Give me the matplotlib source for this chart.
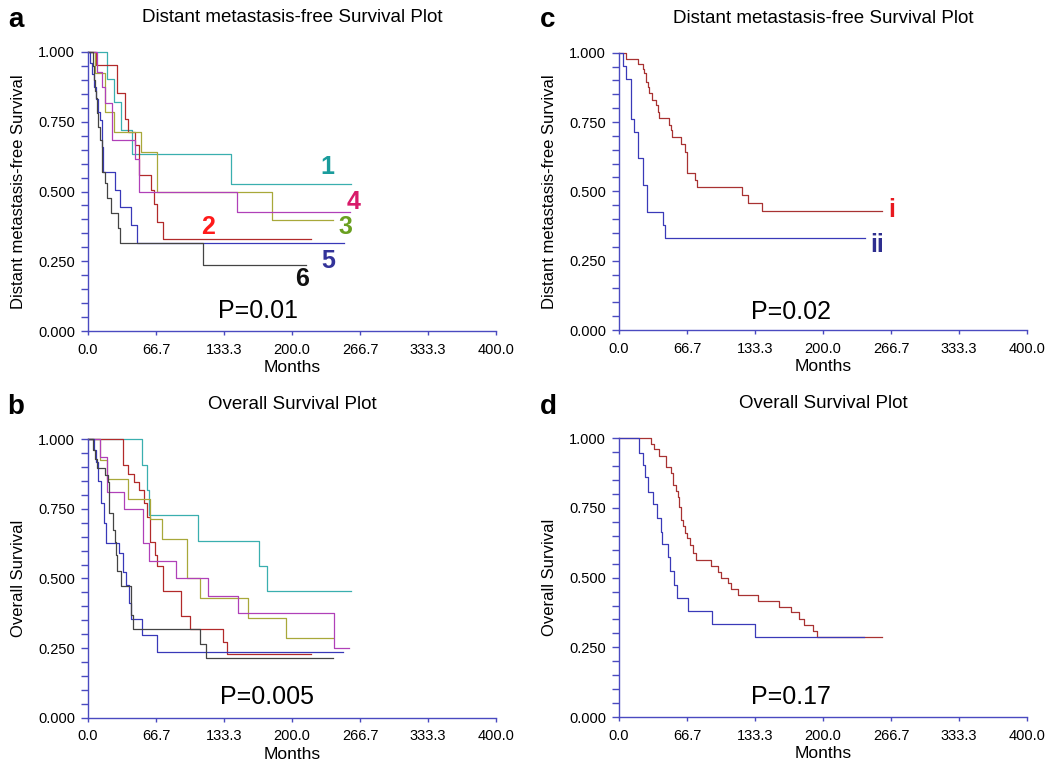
import matplotlib
matplotlib.use("Agg")
import matplotlib.pyplot as plt
from matplotlib.ticker import MultipleLocator, FixedLocator, FormatStrFormatter

plt.rcParams['font.family'] = ['Liberation Sans', 'DejaVu Sans']

# ---- data (months, survival fraction) ----
# panel a: distant metastasis-free survival, groups 1-6
a1_t = [0, 19.0, 25.8, 32.4, 43.5, 140.0, 258.0]
a1_s = [1.0, 0.904, 0.820, 0.722, 0.633, 0.527, 0.527]
a2_t = [0, 7.8, 28.0, 36.3, 39.5, 46.0, 50.3, 61.8, 65.0, 67.3, 73.8, 219.0]
a2_s = [1.0, 0.952, 0.854, 0.759, 0.713, 0.666, 0.558, 0.507, 0.455, 0.391, 0.328, 0.328]
a3_t = [0, 6.9, 16.7, 25.8, 52.0, 67.3, 180.0, 240.0]
a3_s = [1.0, 0.926, 0.785, 0.713, 0.642, 0.499, 0.397, 0.397]
a4_t = [0, 9.0, 13.4, 16.7, 23.8, 46.0, 50.3, 145.7, 257.0]
a4_s = [1.0, 0.930, 0.874, 0.816, 0.686, 0.618, 0.499, 0.427, 0.427]
a5_t = [0, 2.0, 4.0, 6.0, 8.0, 10.0, 12.0, 13.5, 15.0, 26.5, 31.4, 42.2, 47.7, 251.0]
a5_s = [1.0, 0.96, 0.92, 0.875, 0.83, 0.785, 0.755, 0.66, 0.57, 0.505, 0.445, 0.379, 0.314, 0.314]
a6_t = [0, 4.5, 5.5, 6.5, 7.5, 8.5, 10.0, 11.5, 13.4, 16.7, 18.3, 22.2, 29.7, 31.4, 113.0, 214.0]
a6_s = [1.0, 0.95, 0.90, 0.86, 0.834, 0.78, 0.73, 0.684, 0.57, 0.53, 0.476, 0.422, 0.369, 0.314, 0.236, 0.236]

# panel b: overall survival, groups 1-6
b1_t = [0, 53.3, 58.2, 60.0, 107.5, 168.0, 175.0, 257.5]
b1_s = [1.0, 0.908, 0.818, 0.728, 0.636, 0.545, 0.455, 0.455]
b2_t = [0, 34.6, 38.9, 45.4, 50.0, 55.0, 58.2, 60.8, 65.7, 67.3, 73.2, 90.8, 100.0, 132.7, 136.0, 219.0]
b2_s = [1.0, 0.908, 0.875, 0.848, 0.818, 0.77, 0.722, 0.632, 0.584, 0.545, 0.455, 0.365, 0.317, 0.273, 0.228, 0.228]
b3_t = [0, 11.8, 18.3, 38.9, 60.8, 72.2, 97.4, 109.8, 156.5, 194.0, 240.5]
b3_s = [1.0, 0.926, 0.856, 0.784, 0.713, 0.641, 0.50, 0.429, 0.357, 0.287, 0.287]
b4_t = [0, 11.8, 18.3, 35.6, 53.6, 60.0, 86.3, 118.0, 147.4, 241.0, 256.0]
b4_s = [1.0, 0.937, 0.812, 0.749, 0.629, 0.563, 0.50, 0.437, 0.377, 0.251, 0.251]
b5_t = [0, 6.0, 8.0, 10.0, 12.5, 15.7, 17.6, 30.7, 34.6, 37.3, 40.0, 42.2, 53.3, 67.3, 250.0]
b5_s = [1.0, 0.96, 0.92, 0.85, 0.77, 0.70, 0.627, 0.59, 0.524, 0.477, 0.413, 0.353, 0.297, 0.237, 0.237]
b6_t = [0, 5.0, 7.0, 9.0, 17.0, 19.6, 20.9, 24.8, 26.5, 27.3, 28.1, 32.0, 41.8, 43.8, 109.8, 115.4, 240.5]
b6_s = [1.0, 0.96, 0.93, 0.897, 0.87, 0.848, 0.736, 0.674, 0.632, 0.584, 0.527, 0.473, 0.369, 0.317, 0.265, 0.213, 0.213]

# panel c: distant metastasis-free survival, groups i and ii
c1_t = [0, 6.9, 19.0, 23.2, 24.8, 26.1, 28.1, 29.7, 32.0, 36.3, 38.6, 39.5, 49.3, 50.7,
        52.0, 61.1, 65.0, 67.0, 74.5, 76.2, 120.3, 126.8, 139.9, 257.5]
c1_s = [1.0, 0.977, 0.958, 0.94, 0.925, 0.895, 0.875, 0.853, 0.829, 0.811, 0.787, 0.766, 0.739, 0.72,
        0.695, 0.671, 0.643, 0.567, 0.541, 0.517, 0.487, 0.459, 0.429, 0.429]
c2_t = [0, 3.6, 6.9, 11.4, 14.7, 19.0, 24.0, 27.3, 43.0, 44.7, 241.0]
c2_s = [1.0, 0.952, 0.904, 0.761, 0.713, 0.619, 0.523, 0.427, 0.379, 0.331, 0.331]

# panel d: overall survival, groups i and ii
d1_t = [0, 31.0, 34.3, 39.2, 46.0, 50.7, 53.3, 55.9, 57.5, 59.2, 60.5, 63.1, 64.7, 67.0, 69.6, 72.2,
        75.5, 90.2, 97.4, 99.7, 107.2, 109.8, 117.0, 136.6, 157.2, 168.3, 176.8, 181.4, 189.9, 194.4, 257.5]
d1_s = [1.0, 0.978, 0.96, 0.937, 0.898, 0.874, 0.832, 0.81, 0.79, 0.754, 0.707, 0.686, 0.661, 0.641, 0.617, 0.587,
        0.563, 0.542, 0.521, 0.50, 0.48, 0.458, 0.438, 0.417, 0.396, 0.376, 0.35, 0.33, 0.309, 0.286, 0.286]
d2_t = [0, 19.6, 23.2, 25.5, 28.8, 33.7, 37.0, 40.9, 42.0, 48.4, 49.7, 53.9, 57.2, 67.6, 91.5, 133.3, 240.5]
d2_s = [1.0, 0.948, 0.904, 0.86, 0.808, 0.763, 0.713, 0.665, 0.621, 0.573, 0.524, 0.474, 0.428, 0.38, 0.334, 0.286, 0.286]

x_ticks = [0, 66.7, 133.3, 200.0, 266.7, 333.3, 400.0]
titles = ["Distant metastasis-free Survival Plot", "Overall Survival Plot"]
ylabels = ["Distant metastasis-free Survival", "Overall Survival"]
p_values = ["P=0.01", "P=0.005", "P=0.02", "P=0.17"]

# line colours and label colours
six_lines = ['#3aafaf', '#b22a2a', '#a8a83a', '#b040b8', '#3838b8', '#444444']
six_text = ['#1a9c9c', '#ff1a1a', '#6aa020', '#d81b6a', '#333399', '#111111']
two_lines = ['#a83232', '#3a3ab8']
two_text = ['#e8191f', '#2e2e8f']
axis_col = '#4a4ac0'

fig = plt.figure(figsize=(10.5, 7.68), dpi=100)

rects = {
    'a': [0.0838, 0.569, 0.3886, 0.3633],
    'b': [0.0838, 0.0655, 0.3886, 0.3625],
    'c': [0.5895, 0.5703, 0.3886, 0.3611],
    'd': [0.5895, 0.0664, 0.3886, 0.3629],
}


def setup(ax, title, ylabel, ptxt, pxy):
    ax.set_xlim(0, 400)
    ax.set_ylim(0, 1)
    for s in ['top', 'right']:
        ax.spines[s].set_visible(False)
    for s in ['left', 'bottom']:
        ax.spines[s].set_color(axis_col)
        ax.spines[s].set_linewidth(1.0)
    ax.xaxis.set_major_locator(FixedLocator(x_ticks))
    ax.xaxis.set_major_formatter(FormatStrFormatter('%.1f'))
    ax.yaxis.set_major_locator(MultipleLocator(0.25))
    ax.yaxis.set_minor_locator(MultipleLocator(0.05))
    ax.yaxis.set_major_formatter(FormatStrFormatter('%.3f'))
    ax.tick_params(axis='y', which='both', direction='out', length=4.7, width=1.0,
                   color=axis_col, labelsize=10.5, pad=4.5)
    ax.tick_params(axis='x', which='both', direction='out', length=2.8, width=1.0,
                   color=axis_col, labelsize=10.5, pad=5.5)
    ax.set_xlabel("Months", fontsize=12.5)
    ax.xaxis.set_label_coords(0.5, -0.105)
    ax.set_ylabel(ylabel, fontsize=12)
    ax.yaxis.set_label_coords(-0.152, 0.5)
    ax.text(0.5, 1.125, title, transform=ax.transAxes, ha='center', va='center', fontsize=13.5)
    ax.text(pxy[0], pxy[1], ptxt, ha='center', va='center', fontsize=18)


def curve(ax, t, s, c):
    ax.step(t, s, where='post', color=c, lw=0.9, clip_on=False)


# panel a
ax = fig.add_axes(rects['a'])
setup(ax, titles[0], ylabels[0], p_values[0], (167, 0.07))
for t, s, c in zip([a1_t, a2_t, a3_t, a4_t, a5_t, a6_t], [a1_s, a2_s, a3_s, a4_s, a5_s, a6_s], six_lines):
    curve(ax, t, s, c)
a_labels = ['1', '2', '3', '4', '5', '6']
a_pos = [(235, 0.588), (118, 0.373), (252, 0.373), (260, 0.463), (236, 0.25), (210, 0.185)]
for lab, (x, y), c in zip(a_labels, a_pos, six_text):
    ax.text(x, y, lab, color=c, fontsize=18, fontweight='bold', ha='center', va='center')

# panel b
ax = fig.add_axes(rects['b'])
setup(ax, titles[1], ylabels[1], p_values[1], (175, 0.073))
for t, s, c in zip([b1_t, b2_t, b3_t, b4_t, b5_t, b6_t], [b1_s, b2_s, b3_s, b4_s, b5_s, b6_s], six_lines):
    curve(ax, t, s, c)

# panel c
ax = fig.add_axes(rects['c'])
setup(ax, titles[0], ylabels[0], p_values[2], (169, 0.065))
curve(ax, c1_t, c1_s, two_lines[0])
curve(ax, c2_t, c2_s, two_lines[1])
for lab, (x, y), c in zip(['i', 'ii'], [(267, 0.433), (253, 0.307)], two_text):
    ax.text(x, y, lab, color=c, fontsize=18, fontweight='bold', ha='center', va='center')

# panel d
ax = fig.add_axes(rects['d'])
setup(ax, titles[1], ylabels[1], p_values[3], (169, 0.073))
curve(ax, d1_t, d1_s, two_lines[0])
curve(ax, d2_t, d2_s, two_lines[1])

# panel letters
for lab, (x, y) in zip(['a', 'b', 'c', 'd'], [(16, 20), (16, 407), (548, 20), (548, 407)]):
    fig.text(x / 1050, 1 - y / 768, lab, fontsize=20, fontweight='bold', ha='center', va='center')

fig.savefig("out.png", dpi=100)
